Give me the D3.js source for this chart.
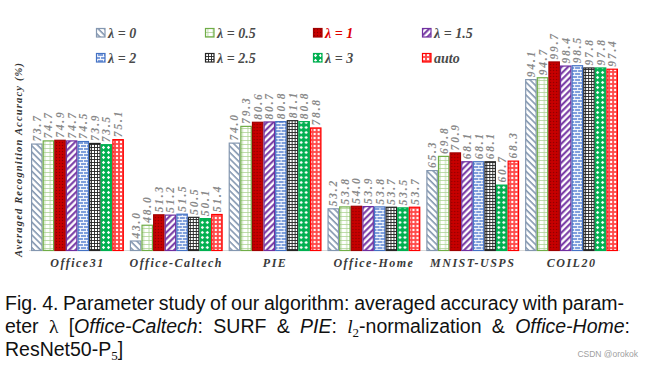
<!DOCTYPE html>
<html><head><meta charset="utf-8">
<script src="https://cdn.jsdelivr.net/npm/d3@7"></script>
<style>
html,body{margin:0;padding:0;background:#fff;}
svg{display:block;}
</style></head>
<body>
<svg id="chart" width="650" height="365"></svg>
<script>
const categories = ["Office31","Office-Caltech","PIE","Office-Home","MNIST-USPS","COIL20"];
const seriesNames = ["λ = 0","λ = 0.5","λ = 1","λ = 1.5","λ = 2","λ = 2.5","λ = 3","auto"];
const lam0   = [73.7, 43.0, 74.0, 53.2, 65.3, 94.1];
const lam05  = [74.7, 48.0, 79.3, 53.8, 69.8, 94.7];
const lam1   = [74.9, 51.3, 80.6, 54.0, 70.9, 99.7];
const lam15  = [74.7, 51.2, 80.7, 53.9, 68.1, 98.4];
const lam2   = [74.5, 51.5, 80.8, 53.8, 68.1, 98.5];
const lam25  = [73.9, 50.5, 81.1, 53.7, 68.1, 97.8];
const lam3   = [73.5, 50.1, 80.8, 53.5, 60.7, 97.8];
const auto   = [75.1, 51.4, 78.8, 53.7, 68.3, 97.4];
const seriesValues = [lam0, lam05, lam1, lam15, lam2, lam25, lam3, auto];
const yDomain = [40, 100];

const svg = d3.select("#chart");
const defs = svg.append("defs");

function pat(id, w, h, transform) {
  const p = defs.append("pattern").attr("id", id).attr("patternUnits", "userSpaceOnUse")
    .attr("width", w).attr("height", h);
  if (transform) p.attr("patternTransform", transform);
  return p;
}
let p;
p = pat("p0", 4.5, 4.5, "rotate(-45)");
p.append("rect").attr("width", 4.5).attr("height", 4.5).attr("fill", "#ffffff");
p.append("line").attr("x1", 1).attr("x2", 1).attr("y1", 0).attr("y2", 4.5).attr("stroke", "#8497b0").attr("stroke-width", 1.6);
p = pat("p1", 5.5, 4);
p.append("rect").attr("width", 5.5).attr("height", 4).attr("fill", "#ffffff");
p.append("line").attr("x1", 0).attr("x2", 5.5).attr("y1", 0.4).attr("y2", 0.4).attr("stroke", "#a9d18e").attr("stroke-width", 0.8);
p.append("line").attr("x1", 2.75).attr("x2", 2.75).attr("y1", 0).attr("y2", 4).attr("stroke", "#a9d18e").attr("stroke-width", 0.8);
p = pat("p2", 3, 3);
p.append("rect").attr("width", 3).attr("height", 3).attr("fill", "#c80000");
p.append("circle").attr("cx", 1.5).attr("cy", 1.5).attr("r", 0.7).attr("fill", "#8a0000");
p = pat("p3", 4.5, 4.5, "rotate(45)");
p.append("rect").attr("width", 4.5).attr("height", 4.5).attr("fill", "#ffffff");
p.append("line").attr("x1", 1.2).attr("x2", 1.2).attr("y1", 0).attr("y2", 4.5).attr("stroke", "#7030a0").attr("stroke-width", 2);
p = pat("p4", 6, 6);
p.append("rect").attr("width", 6).attr("height", 6).attr("fill", "#7f9fdc");
p.append("path").attr("d", "M0,0.5H6M0,3.5H6M1.5,0.5V3.5M4.5,3.5V6").attr("stroke", "#ffffff").attr("stroke-width", 0.9).attr("fill", "none");
p = pat("p5", 3, 3);
p.append("rect").attr("width", 3).attr("height", 3).attr("fill", "#ffffff");
p.append("path").attr("d", "M0,0.5H3M0.5,0V3").attr("stroke", "#222").attr("stroke-width", 0.9).attr("fill", "none");
p = pat("p6", 5, 5);
p.append("rect").attr("width", 5).attr("height", 5).attr("fill", "#00b050");
p.append("path").attr("d", "M2.5,0.8L4.2,2.5L2.5,4.2L0.8,2.5Z").attr("fill", "#ffffff");
p = pat("p7", 4, 4);
p.append("rect").attr("width", 4).attr("height", 4).attr("fill", "#ff4848");
p.append("circle").attr("cx", 2).attr("cy", 2).attr("r", 1.2).attr("fill", "#ffffff");

const outline = ["#8497b0", "#70ad47", "#a00000", "#7030a0", "#4472c4", "#262626", "#00b050", "#ff0000"];
const legendTextColor = ["#4a4a4a", "#4a4a4a", "#e00000", "#4a4a4a", "#4a4a4a", "#4a4a4a", "#4a4a4a", "#4a4a4a"];

const x0 = d3.scaleBand().domain(categories).range([31, 618]).paddingInner(0.06).paddingOuter(0);
const x1 = d3.scaleBand().domain(d3.range(seriesNames.length)).range([0, x0.bandwidth()]).padding(0);
const y = d3.scaleLinear().domain(yDomain).range([250.5, 61]);

svg.append("line").attr("x1", 29).attr("x2", 620).attr("y1", y(40)).attr("y2", y(40))
  .attr("stroke", "#d9d9d9").attr("stroke-width", 1);

const serifFont = "'Liberation Serif', 'DejaVu Serif', serif";

const groups = svg.append("g").selectAll("g").data(categories).join("g")
  .attr("transform", d => `translate(${x0(d)},0)`);

groups.each(function(cat, ci) {
  const g = d3.select(this);
  const data = seriesValues.map((vals, si) => ({ si, v: vals[ci] }));
  g.selectAll("rect").data(data).join("rect")
    .attr("x", d => x1(d.si) + 0.6)
    .attr("width", x1.bandwidth() - 1.2)
    .attr("y", d => y(d.v))
    .attr("height", d => y(yDomain[0]) - y(d.v))
    .attr("fill", d => `url(#p${d.si})`)
    .attr("stroke", d => outline[d.si])
    .attr("stroke-width", 1.2);
  g.selectAll("text.val").data(data).join("text").attr("class", "val")
    .attr("transform", d => `translate(${x1(d.si) + x1.bandwidth() / 2 + 4},${y(d.v) - 2.5}) rotate(-90)`)
    .attr("font-family", serifFont).attr("font-weight", "bold").attr("font-style", "italic")
    .attr("font-size", 11.5).attr("letter-spacing", "1.8px").attr("fill", "#8a8a8a")
    .text(d => d.v.toFixed(1));
});

const xAxis = d3.axisBottom(x0).tickSize(0).tickPadding(0);
const xa = svg.append("g").attr("transform", "translate(0,258)").call(xAxis);
xa.select(".domain").remove();
xa.selectAll("text")
  .attr("font-family", serifFont).attr("font-weight", "bold").attr("font-style", "italic")
  .attr("font-size", 12).attr("letter-spacing", "1.5px").attr("fill", "#3a3a3a")
  .attr("dy", "0.71em");

svg.append("text")
  .attr("transform", "translate(22,160) rotate(-90)")
  .attr("text-anchor", "middle")
  .attr("font-family", serifFont).attr("font-weight", "bold").attr("font-style", "italic")
  .attr("font-size", 10.5).attr("fill", "#333")
  .attr("textLength", 194).attr("lengthAdjust", "spacing")
  .text("Averaged Recognition Accuracy (%)");

const legCols = [96, 205, 313, 422];
const legRows = [28, 53];
const leg = svg.append("g").selectAll("g").data(seriesNames).join("g")
  .attr("transform", (d, i) => `translate(${legCols[i % 4]},${legRows[Math.floor(i / 4)]})`);
leg.append("rect").attr("x", 0.5).attr("y", 0.5).attr("width", 8.5).attr("height", 8.5)
  .attr("fill", (d, i) => `url(#p${i})`).attr("stroke", (d, i) => outline[i]).attr("stroke-width", 1.2);
leg.each(function(d, i) {
  d3.select(this).append("text").attr("x", 12).attr("y", 9.5)
    .attr("font-family", serifFont).attr("font-weight", "bold").attr("font-style", "italic")
    .attr("font-size", 14).attr("fill", legendTextColor[i])
    .text(d);
});

const capFont = "'Liberation Sans', Arial, sans-serif";
const cap = svg.append("g").attr("font-family", capFont).attr("font-size", 19.5).attr("fill", "#111");
function justifyLine(yPos, parts, left, right) {
  const wordNodes = parts.map(word => {
    const tw = cap.append("text").attr("y", yPos);
    word.forEach(([s, st]) => {
      const ts = tw.append("tspan").text(s);
      if (st && st.italic) ts.attr("font-style", "italic");
      if (st && st.serif) ts.attr("font-family", "'Liberation Serif', 'DejaVu Serif', serif");
      if (st && st.sub) ts.attr("baseline-shift", "-4").attr("font-size", 13).attr("font-family", "'Liberation Serif', serif");
    });
    return tw;
  });
  const widths = wordNodes.map(n => n.node().getComputedTextLength());
  if (right == null) {
    let xpos = left;
    wordNodes.forEach((n, i) => { n.attr("x", xpos); xpos += widths[i] + 5.4; });
    return;
  }
  const total = d3.sum(widths);
  const gap = (right - left - total) / (wordNodes.length - 1);
  let xpos = left;
  wordNodes.forEach((n, i) => { n.attr("x", xpos); xpos += widths[i] + gap; });
}
const W = s => [[s]];
justifyLine(310, ["Fig.", "4.", "Parameter", "study", "of", "our", "algorithm:", "averaged", "accuracy", "with", "param-"].map(W), 5, 624);
justifyLine(333, [W("eter"), [["λ", { serif: true }]], [["[", {}], ["Office-Caltech", { italic: true }], [":", {}]], W("SURF"), W("&"),
  [["PIE", { italic: true }], [":", {}]], [["l", { serif: true, italic: true }], ["2", { sub: true }], ["-normalization", {}]], W("&"),
  [["Office-Home", { italic: true }], [":", {}]]], 5, 630);
justifyLine(356, [[["ResNet50-P", {}], ["5", { sub: true }], ["]", {}]]], 5, null);

svg.append("text").attr("x", 638).attr("y", 357).attr("text-anchor", "end")
  .attr("font-family", capFont).attr("font-size", 8.5).attr("fill", "#a0a0a0")
  .text("CSDN @orokok");
</script>
</body></html>
